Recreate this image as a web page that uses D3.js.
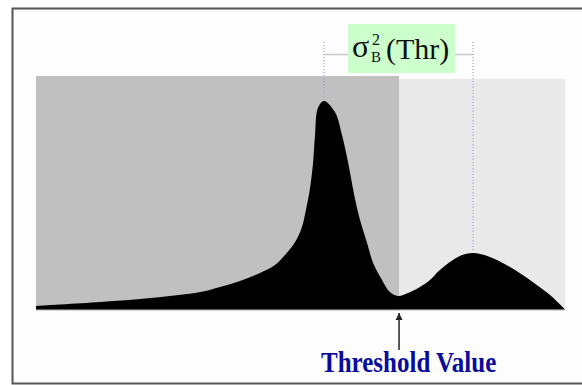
<!DOCTYPE html>
<html>
<head>
<meta charset="utf-8">
<script src="https://cdn.jsdelivr.net/npm/d3@7"></script>
<style>
  body { margin: 0; background: #fff; }
  svg { display: block; }
</style>
</head>
<body>
<div id="chart"></div>
<script>
// gray-level histogram (level 0..255, relative count 0..100)
const levels = [0, 30.9, 55, 79.1, 88.7, 98.3, 108, 115.2, 120, 124.9, 128.2, 130.1, 132.1, 133.5, 134.5, 135.9, 138.8, 144.1, 147.5, 150.4, 153.8, 156.2, 159.6, 162.5, 166.8, 170.6, 174.5, 179.3, 185.1, 189.9, 194.7, 204.3, 210.7, 218.8, 228.5, 238.1, 247.8, 255];
const counts = [1.5, 3.2, 4.9, 7.5, 9.7, 12.3, 15.7, 19.1, 23.4, 29.0, 35.5, 42.8, 52.3, 62.6, 75.1, 86.7, 89.7, 84.9, 75.1, 63.4, 47.5, 38.5, 28.6, 20.0, 12.7, 7.5, 5.8, 7.1, 9.7, 12.7, 17.0, 23.0, 24.3, 22.6, 18.3, 12.7, 6.2, 0];
const threshold = 175;
const classMeans = [138.8, 210.7];
const labelText = "Threshold Value";

const width = 582, height = 385;

const svg = d3.select("#chart").append("svg")
    .attr("width", width)
    .attr("height", height);

// outer frame
svg.append("rect")
    .attr("x", 12.5).attr("y", 8.5)
    .attr("width", 620).attr("height", 375)
    .attr("fill", "#fdfdfd")
    .attr("stroke", "#555")
    .attr("stroke-width", 2);

const x = d3.scaleLinear().domain([0, 255]).range([36, 565]);
const y = d3.scaleLinear().domain([0, 100]).range([309.5, 77]);

// class backgrounds
svg.append("rect")
    .attr("x", x(0)).attr("y", 76)
    .attr("width", x(threshold) - x(0)).attr("height", 311 - 76)
    .attr("fill", "#c0c0c0");
svg.append("rect")
    .attr("x", x(threshold)).attr("y", 79)
    .attr("width", x(255) - x(threshold)).attr("height", 311 - 79)
    .attr("fill", "#e9e9e9");
svg.append("line")
    .attr("x1", x(0)).attr("x2", x(255))
    .attr("y1", 310.5).attr("y2", 310.5)
    .attr("stroke", "#d6d6d6");

// histogram area
const hist = levels.map((l, i) => ({level: l, count: counts[i]}));
const area = d3.area()
    .x(d => x(d.level))
    .y0(y(0))
    .y1(d => y(d.count))
    .curve(d3.curveCatmullRom.alpha(0.5));
svg.append("path")
    .datum(hist)
    .attr("d", area)
    .attr("fill", "#000");

// class mean markers
const lineY = 54.5;
svg.append("line")
    .attr("x1", x(classMeans[0])).attr("x2", x(classMeans[1]))
    .attr("y1", lineY).attr("y2", lineY)
    .attr("stroke", "#c8c8c8").attr("stroke-width", 1.5);

const peakAt = m => {
    const i = d3.bisectLeft(levels, m);
    return counts[Math.min(i, counts.length - 1)];
};
classMeans.forEach(m => {
    svg.append("line")
        .attr("x1", x(m)).attr("x2", x(m))
        .attr("y1", 42).attr("y2", y(peakAt(m)) - 2)
        .attr("stroke", "#8a8ad8")
        .attr("stroke-width", 1)
        .attr("stroke-dasharray", "1,2");
});

// sigma label box
const serif = "'Liberation Serif', 'DejaVu Serif', serif";
const box = svg.append("g")
    .attr("font-family", serif)
    .attr("fill", "#111");
box.append("rect")
    .attr("x", 348).attr("y", 24)
    .attr("width", 107).attr("height", 49)
    .attr("fill", "#ccffcc");
box.append("text").attr("x", 352).attr("y", 57)
    .attr("font-size", 32).text("σ");
box.append("text").attr("x", 371).attr("y", 62)
    .attr("font-size", 15).text("B");
box.append("text").attr("x", 372).attr("y", 45)
    .attr("font-size", 16).text("2");
box.append("text").attr("x", 386).attr("y", 59)
    .attr("font-size", 30).text("(Thr)");

// threshold arrow
svg.append("defs").append("marker")
    .attr("id", "arrow")
    .attr("viewBox", "0 0 10 10")
    .attr("refX", 10).attr("refY", 5)
    .attr("markerWidth", 7).attr("markerHeight", 8)
    .attr("markerUnits", "userSpaceOnUse")
    .attr("orient", "auto")
    .append("path")
    .attr("d", "M0,0L10,5L0,10Z")
    .attr("fill", "#222");
svg.append("line")
    .attr("x1", x(threshold)).attr("x2", x(threshold))
    .attr("y1", 350).attr("y2", 313)
    .attr("stroke", "#222").attr("stroke-width", 1.5)
    .attr("marker-end", "url(#arrow)");

svg.append("text")
    .attr("transform", "translate(321,372) scale(1,1.15)")
    .attr("font-family", serif)
    .attr("font-weight", "bold")
    .attr("font-size", 25)
    .attr("fill", "#0a0a9a")
    .text(labelText);
</script>
</body>
</html>
